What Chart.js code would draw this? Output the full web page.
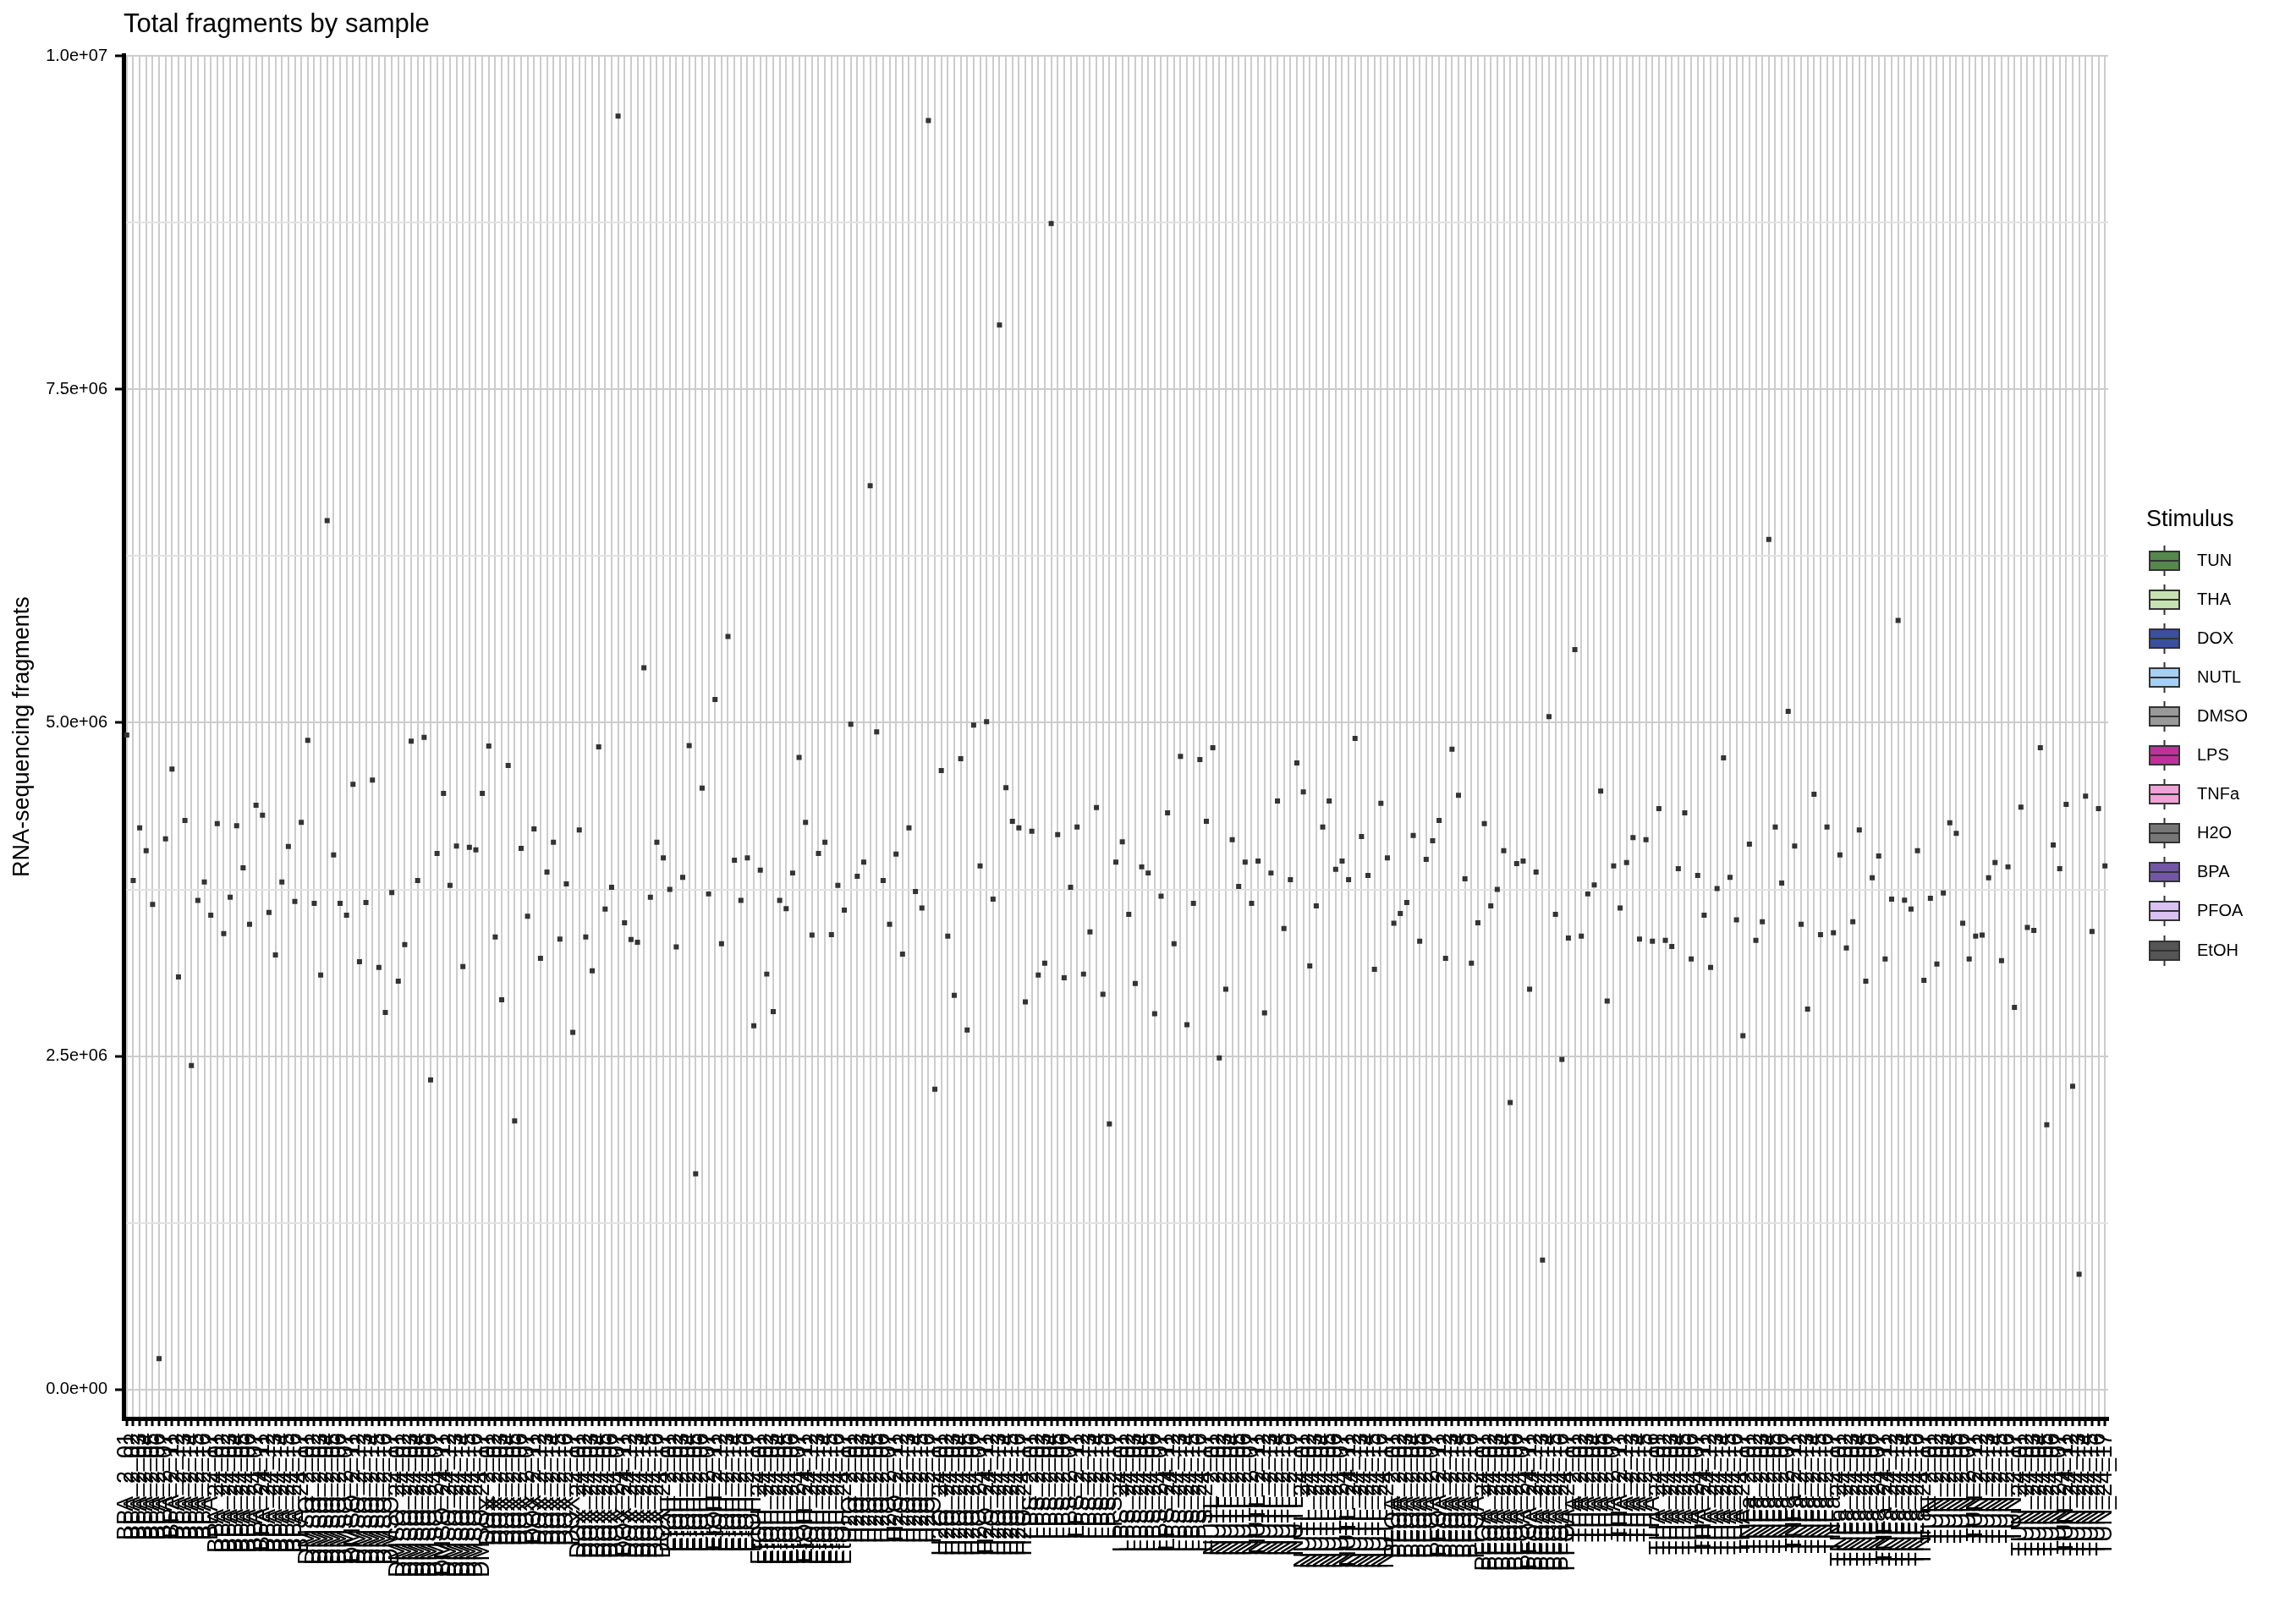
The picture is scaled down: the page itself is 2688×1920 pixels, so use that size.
<!DOCTYPE html>
<html>
<head>
<meta charset="utf-8">
<title>Total fragments by sample</title>
<script src="https://cdn.jsdelivr.net/npm/chart.js@4.4.0/dist/chart.umd.min.js"></script>
<style>
  html, body { margin: 0; padding: 0; background: #ffffff; }
  #wrap { width: 2688px; height: 1920px; position: relative; }
</style>
</head>
<body>
<div id="wrap"><canvas id="myChart" width="2688" height="1920"></canvas></div>
<script>
const FONT = '"Liberation Sans", Arial, Helvetica, sans-serif';

// legend order and fill colours
const stimuli = ['TUN', 'THA', 'DOX', 'NUTL', 'DMSO', 'LPS', 'TNFa', 'H2O', 'BPA', 'PFOA', 'EtOH'];
const stimColors = ['#55884c', '#c7e2b1', '#3a4fa0', '#a5d0f5', '#999999', '#c0309a',
  '#f2a1d6', '#777777', '#7257a6', '#d9c1f2', '#555555'];

// sample naming on the x axis
const axisStimuli = ['BPA', 'DMSO', 'DOX', 'EtOH', 'H2O', 'LPS', 'NUTL', 'PFOA', 'THA', 'TNFa', 'TUN'];
const timePoints = ['2', '24'];
const replicates = ['01', '02', '03', '04', '05', '06', '07', '11', '12', '13', '14', '15', '16', '17'];
const groupSizes = [14, 14, 14, 14, 14, 14, 14, 14, 14, 14, 14,
  14, 14, 14, 14, 14, 13, 14, 14, 14, 14, 14];

// y axis
const yGridValues = [0, 1250000, 2500000, 3750000, 5000000, 6250000, 7500000, 8750000, 10000000];
const yMajorValues = [0, 2500000, 5000000, 7500000, 10000000];
const yMajorLabels = ['0.0e+00', '2.5e+06', '5.0e+06', '7.5e+06', '1.0e+07'];

// total fragments per sample, in axis order
const fragments = [
  4908000, 3816000, 4211000, 4040000, 3638000, 231000, 4129000, 4652000, 3094000, 4267000,
  2429000, 3667000, 3805000, 3556000, 4243000, 3418000, 3691000, 4228000, 3912000, 3489000,
  4381000, 4307000, 3578000, 3258000, 3805000, 4072000, 3659000, 4253000, 4868000, 3645000,
  3108000, 6516000, 4008000, 3645000, 3556000, 4538000, 3208000, 3652000, 4570000, 3165000,
  2827000, 3727000, 3062000, 3336000, 4861000, 3816000, 4890000, 2322000, 4019000, 4470000,
  3780000, 4075000, 3172000, 4065000, 4047000, 4470000, 4826000, 3393000, 2923000, 4680000,
  2013000, 4058000, 3549000, 4203000, 3233000, 3880000, 4104000, 3378000, 3791000, 2678000,
  4196000, 3393000, 3140000, 4819000, 3602000, 3766000, 9549000, 3499000, 3375000, 3354000,
  5412000, 3691000, 4104000, 3987000, 3750000, 3318000, 3841000, 4829000, 1618000, 4509000,
  3716000, 5174000, 3343000, 5647000, 3969000, 3667000, 3987000, 2728000, 3894000, 3115000,
  2834000, 3667000, 3606000, 3873000, 4740000, 4253000, 3407000, 4019000, 4104000, 3411000,
  3780000, 3595000, 4989000, 3848000, 3955000, 6777000, 4932000, 3816000, 3489000, 4015000,
  3265000, 4211000, 3734000, 3610000, 9516000, 2251000, 4641000, 3400000, 2956000, 4730000,
  2696000, 4982000, 3926000, 5007000, 3677000, 7983000, 4513000, 4260000, 4211000, 2906000,
  4186000, 3108000, 3197000, 8744000, 4161000, 3087000, 3766000, 4218000, 3115000, 3432000,
  4364000, 2963000, 1992000, 3955000, 4107000, 3563000, 3044000, 3919000, 3873000, 2817000,
  3699000, 4324000, 3343000, 4748000, 2735000, 3645000, 4723000, 4260000, 4812000, 2486000,
  3002000, 4122000, 3773000, 3955000, 3645000, 3962000, 2824000, 3873000, 4413000, 3457000,
  3823000, 4698000, 4481000, 3176000, 3627000, 4218000, 4413000, 3901000, 3962000, 3823000,
  4883000, 4147000, 3855000, 3151000, 4396000, 3987000, 3496000, 3570000, 3652000, 4154000,
  3361000, 3976000, 4115000, 4267000, 3233000, 4801000, 4456000, 3830000, 3197000, 3499000,
  4243000, 3627000, 3750000, 4040000, 2152000, 3944000, 3962000, 3002000, 3880000, 971000,
  5046000, 3563000, 2475000, 3386000, 5548000, 3400000, 3716000, 3784000, 4488000, 2913000,
  3926000, 3610000, 3951000, 4139000, 3378000, 4122000, 3361000, 4356000, 3368000, 3322000,
  3905000, 4324000, 3229000, 3855000, 3556000, 3165000, 3757000, 4737000, 3841000, 3521000,
  2653000, 4090000, 3368000, 3507000, 6374000, 4218000, 3798000, 5085000, 4075000, 3489000,
  2852000, 4463000, 3411000, 4218000, 3425000, 4008000, 3311000, 3507000, 4196000, 3062000,
  3837000, 4001000, 3229000, 3677000, 5767000, 3670000, 3602000, 4040000, 3069000, 3684000,
  3190000, 3723000, 4250000, 4171000, 3496000, 3229000, 3400000, 3407000, 3837000, 3951000,
  3215000, 3919000, 2866000, 4367000, 3464000, 3443000, 4812000, 1985000, 4083000, 3905000,
  4388000, 2273000, 864000, 4449000, 3435000, 4356000, 3926000
];

// build sample names: one group per stimulus and time point
const samples = [];
let g = 0;
axisStimuli.forEach(function (stim) {
  timePoints.forEach(function (tp) {
    replicates.slice(0, groupSizes[g]).forEach(function (rep) {
      samples.push(stim + '_' + tp + '_' + rep);
    });
    g++;
  });
});

// boxplot style keys on the right
const stimulusLegend = {
  id: 'stimulusLegend',
  afterDraw(chart) {
    const c = chart.ctx;
    c.save();
    c.fillStyle = '#000000';
    c.textAlign = 'left';
    c.textBaseline = 'middle';
    c.font = '27px ' + FONT;
    c.fillText('Stimulus', 2537, 615);
    c.font = '20px ' + FONT;
    stimuli.forEach(function (name, k) {
      const cy = Math.round(662.5 + k * 46.1);
      c.strokeStyle = '#333333';
      c.lineWidth = 2;
      c.beginPath();
      c.moveTo(2558.5, cy - 18); c.lineTo(2558.5, cy - 11);
      c.moveTo(2558.5, cy + 11); c.lineTo(2558.5, cy + 18);
      c.stroke();
      c.fillStyle = stimColors[k];
      c.fillRect(2541, cy - 11, 35, 22);
      c.strokeRect(2541, cy - 11, 35, 22);
      c.beginPath();
      c.moveTo(2541, cy); c.lineTo(2576, cy);
      c.stroke();
      c.fillStyle = '#000000';
      c.fillText(name, 2597, cy);
    });
    c.restore();
  }
};

const ctx = document.getElementById('myChart').getContext('2d');
const myChart = new Chart(ctx, {
  type: 'line',
  data: {
    labels: samples,
    datasets: [{
      label: 'Total fragments',
      data: fragments,
      showLine: false,
      pointStyle: 'rect',
      pointRadius: 4.24,
      pointHoverRadius: 4.24,
      pointBackgroundColor: '#333333',
      pointBorderWidth: 0,
    }],
  },
  options: {
    responsive: false,
    animation: false,
    devicePixelRatio: 1,
    layout: { padding: { left: 0, right: 196, top: 0, bottom: 0 } },
    plugins: {
      legend: { display: false },
      tooltip: { enabled: false },
      title: {
        display: true,
        text: 'Total fragments by sample',
        align: 'start',
        fullSize: false,
        color: '#000000',
        font: { family: FONT, size: 31, weight: 'normal' },
        padding: { top: 11, bottom: 17 },
      },
    },
    scales: {
      x: {
        type: 'category',
        offset: true,
        grid: {
          offset: false,
          color: '#cccccc',
          lineWidth: 2,
          tickColor: '#000000',
          tickWidth: 3,
          tickLength: 9,
        },
        border: { display: true, color: '#000000', width: 5 },
        ticks: {
          autoSkip: false,
          minRotation: 90,
          maxRotation: 90,
          padding: 8,
          color: '#000000',
          font: { family: FONT, size: 27 },
        },
        afterFit: function (s) {
          s.height = 243;
          s.paddingLeft = 0;
          s.paddingRight = 0;
        },
      },
      y: {
        min: -217500,
        max: 10006300,
        afterBuildTicks: function (s) {
          s.ticks = yGridValues.map(function (v) { return { value: v }; });
        },
        ticks: {
          padding: 9,
          color: '#000000',
          font: { family: FONT, size: 20 },
          callback: function (value) {
            const k = yMajorValues.indexOf(value);
            return k >= 0 ? yMajorLabels[k] : '';
          },
        },
        grid: {
          color: function (c) {
            return yMajorValues.indexOf(c.tick.value) >= 0 ? '#cccccc' : '#e2e2e2';
          },
          lineWidth: 2,
          tickColor: function (c) {
            return yMajorValues.indexOf(c.tick.value) >= 0 ? '#000000' : 'rgba(0,0,0,0)';
          },
          tickWidth: 3,
          tickLength: 10,
        },
        border: { display: true, color: '#000000', width: 5 },
        title: {
          display: true,
          text: 'RNA-sequencing fragments',
          color: '#000000',
          font: { family: FONT, size: 27 },
          padding: { top: 10, bottom: 0 },
        },
        afterFit: function (s) {
          s.width = 146;
        },
      },
    },
  },
  plugins: [stimulusLegend],
});
</script>
</body>
</html>
